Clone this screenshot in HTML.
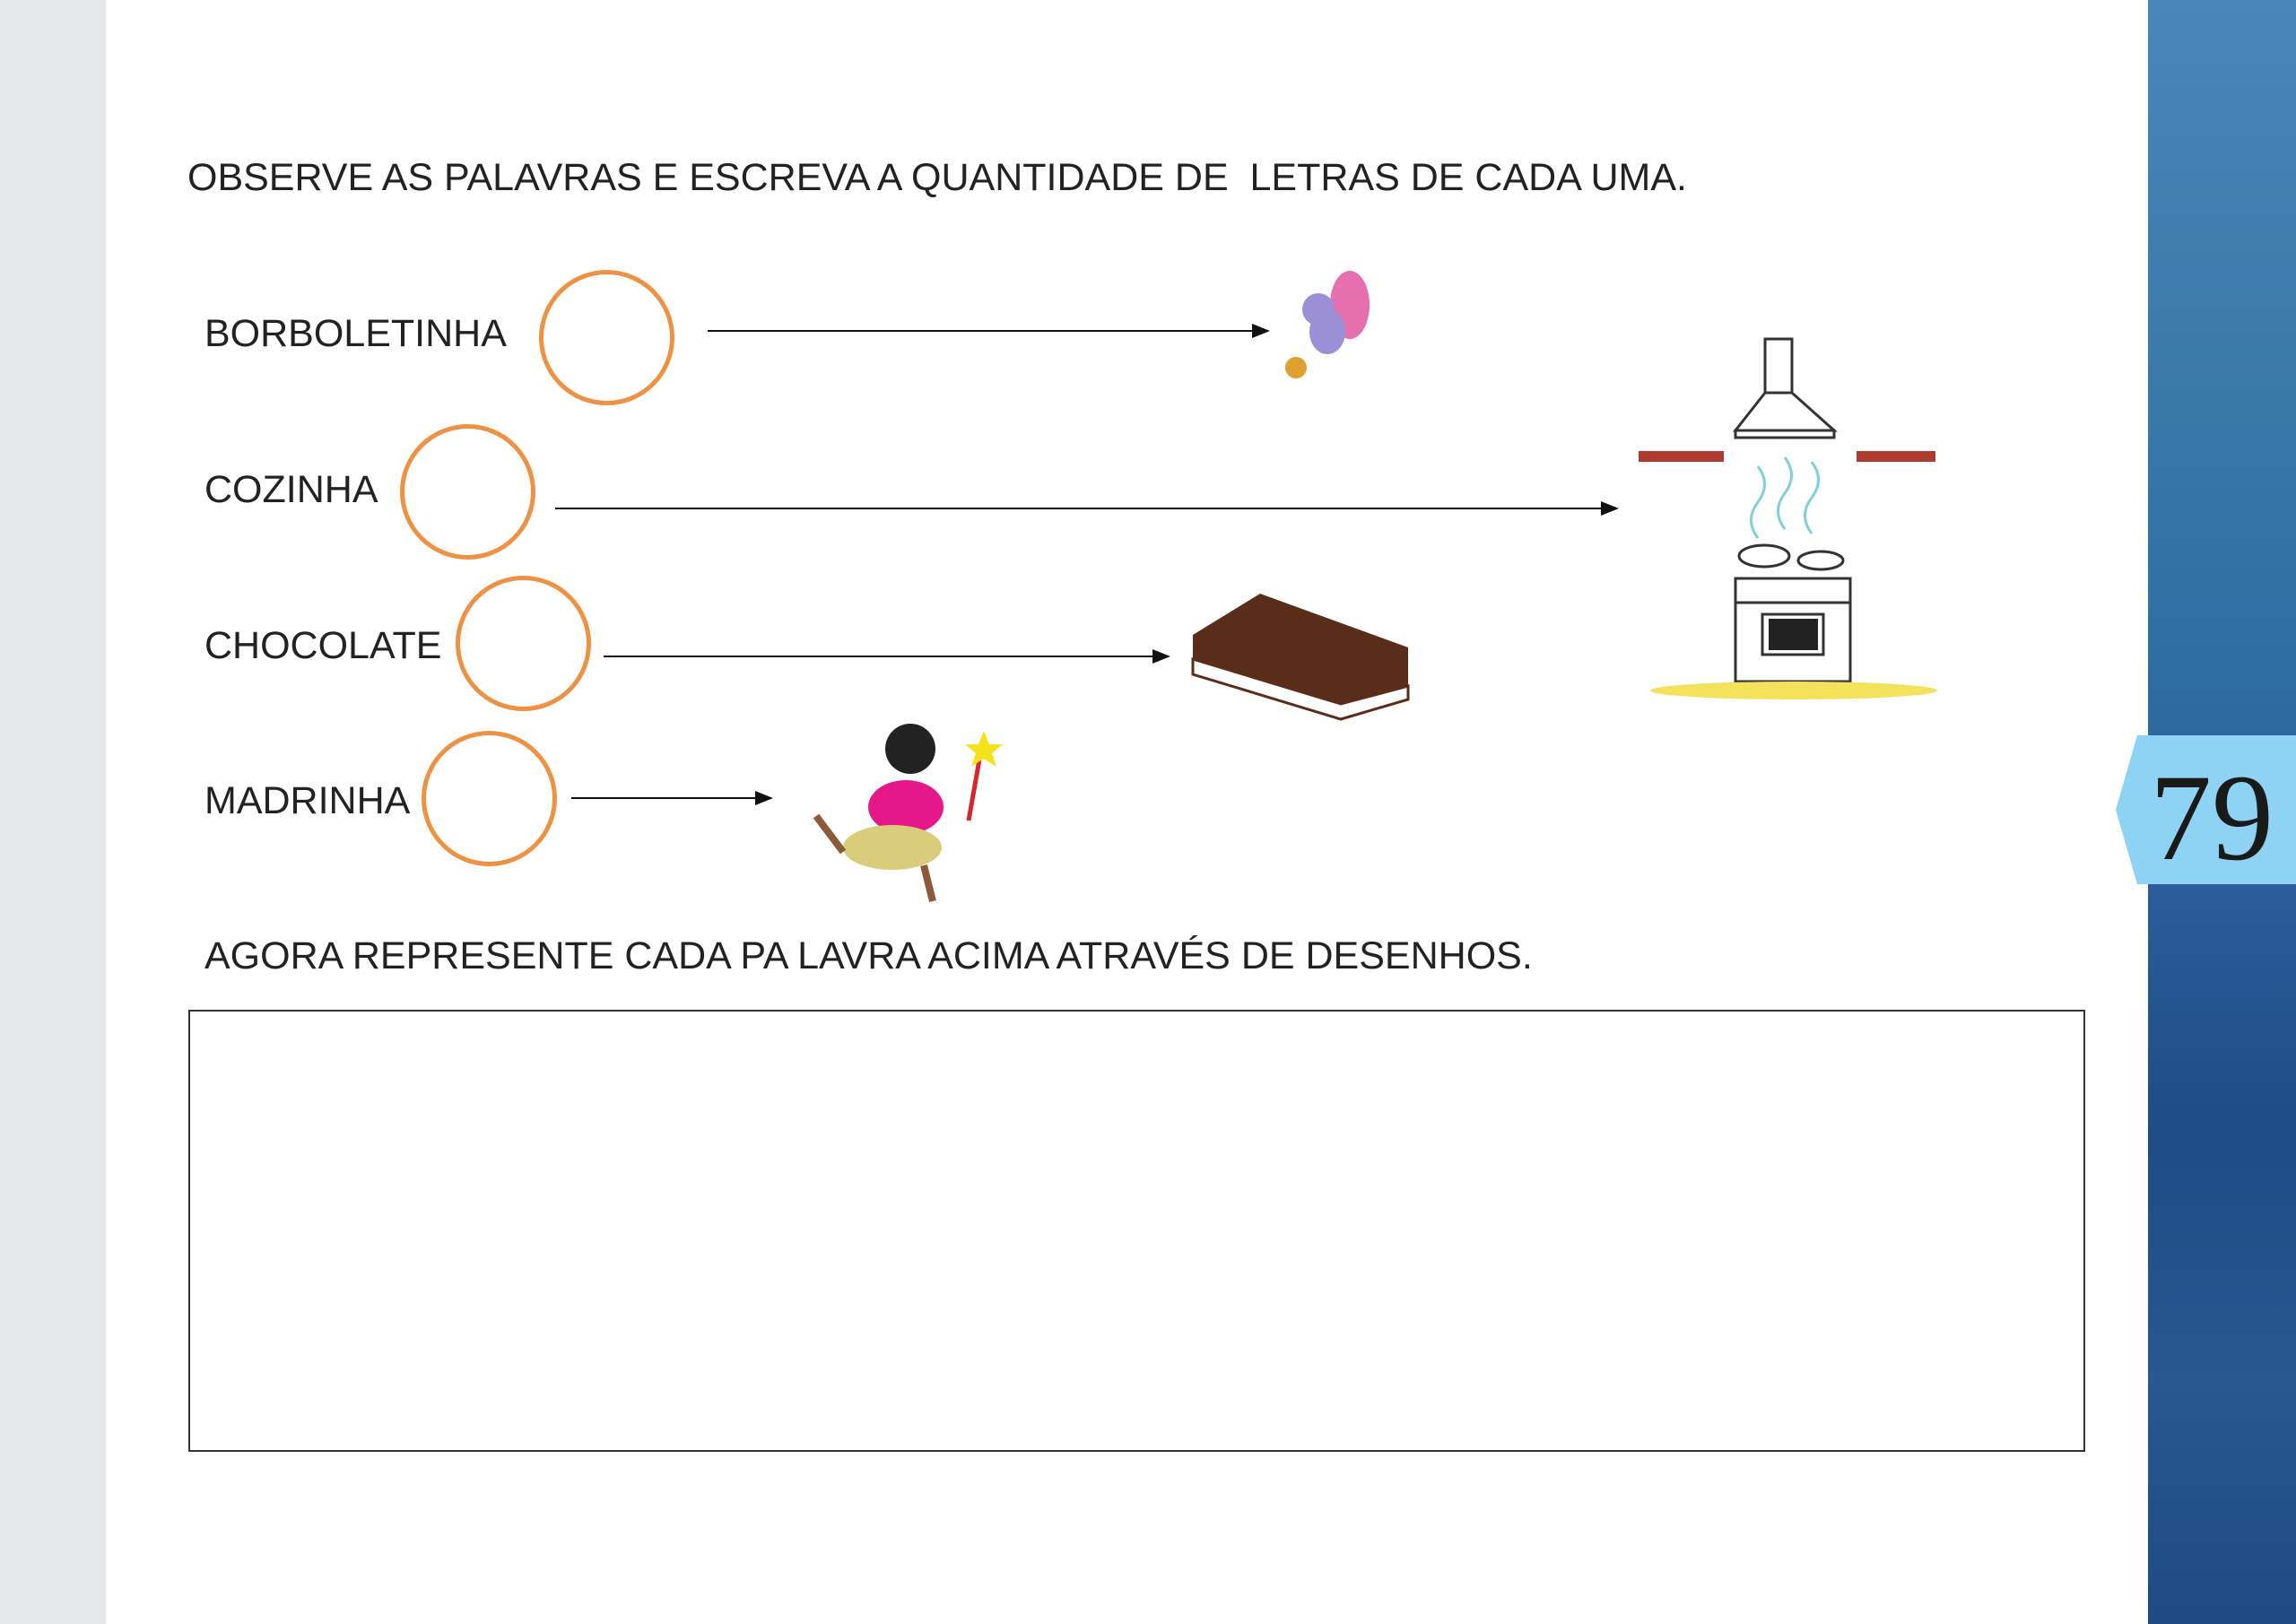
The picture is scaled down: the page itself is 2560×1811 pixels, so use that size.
<!DOCTYPE html>
<html><head><meta charset="utf-8"><style>
body{margin:0;width:2560px;height:1811px;position:relative;background:#fff;font-family:"Liberation Sans",Arial,sans-serif;overflow:hidden}
.t{position:absolute;font-size:43px;color:#222;white-space:nowrap}
.c{position:absolute;border:5px solid #ee9142;border-radius:50%;box-sizing:border-box}
</style></head><body>
<div style="position:absolute;left:0;top:0;width:118px;height:1811px;background:#e6e7e8"></div>
<div style="position:absolute;left:2395px;top:0;width:165px;height:1811px;background:linear-gradient(180deg,#4a86b8 0%,#3a78a8 25%,#2f6ea3 40%,#2a5d9a 55%,#1f4b86 70%,#2a5790 85%,#1f4a82 100%)"></div>
<svg style="position:absolute;left:2359px;top:820px" width="201" height="166"><polygon points="0,83 24,0 201,0 201,166 24,166" fill="#8fd3f4"/><text x="38" y="138" font-family="Liberation Serif,serif" font-size="138" fill="#1a1a1a">79</text></svg>
<div class="t" style="left:209px;top:174px">OBSERVE AS PALAVRAS E ESCREVA A QUANTIDADE DE &nbsp;LETRAS DE CADA UMA.</div>
<div class="t" style="left:228px;top:348px">BORBOLETINHA</div>
<div class="t" style="left:228px;top:522px">COZINHA</div>
<div class="t" style="left:228px;top:696px">CHOCOLATE</div>
<div class="t" style="left:228px;top:869px">MADRINHA</div>
<div class="c" style="left:601px;top:301px;width:151px;height:151px"></div>
<div class="c" style="left:446px;top:473px;width:151px;height:151px"></div>
<div class="c" style="left:508px;top:642px;width:151px;height:151px"></div>
<div class="c" style="left:470px;top:815px;width:151px;height:151px"></div>
<div class="t" style="left:228px;top:1042px">AGORA REPRESENTE CADA PA LAVRA ACIMA ATRAVÉS DE DESENHOS.</div>
<div style="position:absolute;left:210px;top:1126px;width:2115px;height:493px;border:2px solid #333;box-sizing:border-box"></div>
<svg style="position:absolute;left:0;top:0" width="2560" height="1811">
<defs><marker id="a" markerWidth="10" markerHeight="8" refX="9" refY="4" orient="auto"><polygon points="0,0 10,4 0,8" fill="#111"/></marker></defs>
<g stroke="#111" stroke-width="2" marker-end="url(#a)">
<line x1="789" y1="369" x2="1414" y2="369"/><line x1="619" y1="567" x2="1803" y2="567"/>
<line x1="673" y1="732" x2="1303" y2="732"/><line x1="637" y1="890" x2="860" y2="890"/></g>
<ellipse cx="1505" cy="340" rx="22" ry="38" fill="#e66fb0"/><ellipse cx="1480" cy="370" rx="20" ry="25" fill="#9b8fd6"/><circle cx="1470" cy="345" r="18" fill="#9b8fd6"/><circle cx="1445" cy="410" r="12" fill="#e0a030"/>
<g stroke="#333" stroke-width="3" fill="none"><rect x="1968" y="378" width="30" height="60"/><polygon points="1968,438 1998,438 2045,480 1935,480"/><rect x="1935" y="480" width="110" height="8"/>
<rect x="1935" y="645" width="128" height="115"/><rect x="1965" y="685" width="68" height="45"/><line x1="1935" y1="672" x2="2063" y2="672"/>
<ellipse cx="1967" cy="620" rx="28" ry="12"/><ellipse cx="2030" cy="625" rx="25" ry="10"/></g>
<rect x="1827" y="503" width="95" height="12" fill="#b03a2e"/><rect x="2070" y="503" width="88" height="12" fill="#b03a2e"/>
<g stroke="#7fd0d8" stroke-width="3" fill="none"><path d="M1960 520 q15 20 0 40 q-15 20 0 40"/><path d="M1990 510 q15 20 0 40 q-15 20 0 40"/><path d="M2020 515 q15 20 0 40 q-15 20 0 40"/></g>
<rect x="1972" y="690" width="55" height="35" fill="#222"/>
<ellipse cx="2000" cy="770" rx="160" ry="10" fill="#f3e35a"/>
<polygon points="1330,708 1405,662 1570,722 1570,780 1495,800 1330,750" fill="#5a2d1a"/><polygon points="1330,735 1495,785 1570,765 1570,780 1495,802 1330,752" fill="#fff" stroke="#5a2d1a" stroke-width="3"/>
<circle cx="1015" cy="835" r="28" fill="#222"/><ellipse cx="1010" cy="900" rx="42" ry="30" fill="#e5188a"/><ellipse cx="995" cy="945" rx="55" ry="25" fill="#d9cc7a"/>
<line x1="1080" y1="915" x2="1095" y2="830" stroke="#d8262f" stroke-width="5"/><polygon points="1097,815 1103,830 1118,830 1106,840 1111,855 1097,846 1083,855 1088,840 1076,830 1091,830" fill="#f5e21a"/>
<path d="M940 950 l-30 -40 M1030 965 l10 40" stroke="#8b5a3a" stroke-width="8"/>
</svg>
</body></html>
